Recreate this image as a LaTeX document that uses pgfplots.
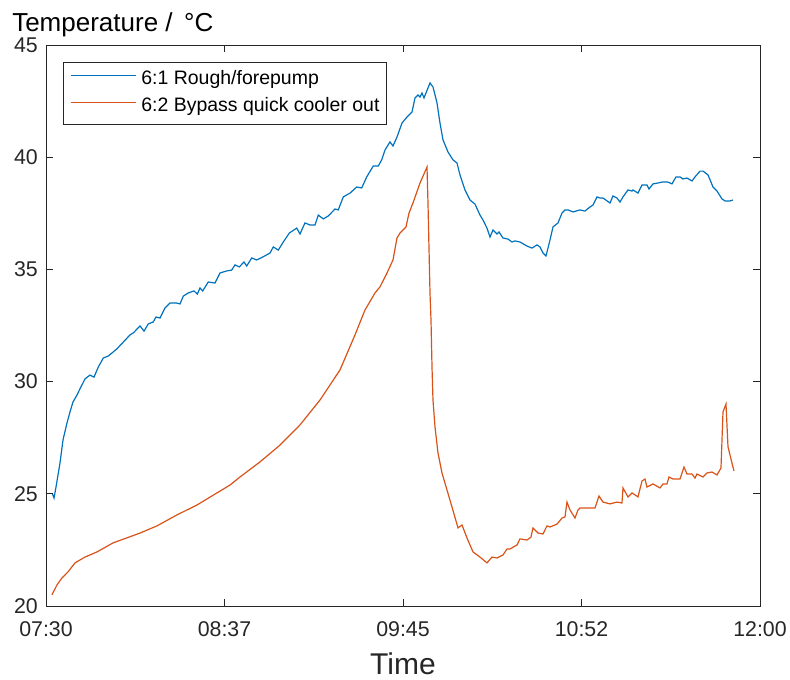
\documentclass[border=0pt]{standalone}
\usepackage{pgfplots}
\pgfplotsset{compat=1.18}
\usepackage{fontspec}
\setmainfont{Liberation Sans}

\definecolor{axgray}{rgb}{0.15,0.15,0.15}
\definecolor{mblue}{rgb}{0,0.447,0.741}
\definecolor{morange}{rgb}{0.85,0.325,0.098}

% minutes after 07:30, temperature in degC
\pgfplotstableread{
t T
2.46 24.99
3.03 24.81
3.78 25.30
5.29 26.37
6.43 27.40
7.94 28.16
9.08 28.65
10.21 29.09
11.72 29.40
12.86 29.68
14.75 30.12
16.64 30.29
18.15 30.20
19.78 30.65
21.67 31.05
23.56 31.14
26.74 31.45
29.23 31.76
31.76 32.08
33.01 32.17
35.55 32.48
37.06 32.25
38.68 32.57
40.58 32.66
41.60 32.88
43.11 32.83
45.00 33.28
46.89 33.50
49.42 33.50
50.67 33.46
51.92 33.81
53.81 33.95
55.97 34.04
57.21 33.90
58.24 34.17
59.26 34.04
61.37 34.44
63.91 34.39
65.80 34.84
68.33 34.93
70.22 34.97
71.47 35.20
73.10 35.11
74.87 35.33
75.90 35.15
77.79 35.51
79.68 35.42
81.95 35.55
84.71 35.73
85.96 36.00
87.84 35.86
89.74 36.22
92.00 36.62
94.80 36.84
96.05 36.58
97.94 37.07
99.83 36.98
101.72 36.98
102.97 37.42
104.86 37.25
106.75 37.38
109.29 37.69
110.53 37.65
112.42 38.23
114.96 38.40
117.49 38.67
119.38 38.63
121.27 39.12
123.77 39.61
125.66 39.61
126.94 39.88
128.19 40.32
130.08 40.68
131.22 40.50
132.73 40.90
134.62 41.52
136.51 41.79
138.40 42.01
139.54 42.64
140.67 42.77
141.43 42.68
142.18 42.86
142.94 42.64
145.21 43.31
146.34 43.13
147.86 42.42
148.99 41.52
150.13 40.77
152.02 40.23
153.91 39.88
155.42 39.74
156.55 39.21
158.44 38.54
160.34 38.09
162.23 37.91
164.12 37.42
165.25 37.20
166.76 36.84
167.90 36.44
169.03 36.76
170.55 36.58
171.30 36.67
172.81 36.40
174.71 36.35
176.22 36.22
177.35 36.27
179.24 36.22
181.89 36.04
183.78 35.95
185.67 36.09
186.81 36.00
187.94 35.73
189.08 35.60
190.59 36.31
191.72 36.89
193.61 37.07
195.13 37.51
196.26 37.65
197.40 37.65
199.29 37.56
201.93 37.65
203.82 37.60
205.71 37.78
206.85 37.87
208.36 38.23
209.50 38.18
210.63 38.18
213.28 37.96
214.41 38.27
215.92 38.18
217.06 38.00
218.19 38.23
220.08 38.54
221.60 38.49
221.97 38.54
223.86 38.40
225.38 38.76
227.27 38.76
228.02 38.58
229.54 38.81
231.43 38.85
232.94 38.89
235.21 38.89
236.72 38.81
238.23 39.12
239.75 39.12
240.88 39.03
242.39 39.07
244.28 38.94
245.42 39.12
247.31 39.38
248.45 39.38
250.34 39.21
252.23 38.67
253.74 38.49
255.63 38.14
256.76 38.05
258.65 38.05
259.79 38.09
}\roughpump

\pgfplotstableread{
t T
2.27 20.50
4.16 20.94
6.05 21.25
8.32 21.52
10.97 21.92
14.75 22.18
19.29 22.41
25.34 22.81
35.55 23.25
41.97 23.57
49.54 24.06
57.10 24.50
64.66 25.04
69.58 25.39
73.36 25.75
80.92 26.42
88.49 27.17
96.05 28.07
103.62 29.18
111.18 30.52
116.85 32.08
120.63 33.19
124.41 33.95
126.30 34.22
128.95 34.84
131.22 35.42
132.73 36.40
133.87 36.62
136.13 36.89
137.27 37.51
138.78 37.96
141.43 38.85
144.08 39.56
144.45 37.96
145.21 33.95
145.59 32.74
145.97 30.65
146.34 29.18
147.10 27.98
148.23 26.82
149.74 25.93
151.64 25.17
153.53 24.41
155.80 23.48
157.31 23.61
159.20 23.03
161.47 22.41
164.12 22.18
166.76 21.92
168.65 22.18
170.55 22.14
172.81 22.27
174.33 22.54
175.46 22.54
178.11 22.72
179.24 22.99
181.89 22.94
183.40 23.07
184.16 23.48
186.05 23.25
187.94 23.21
189.45 23.57
190.59 23.52
193.24 23.65
195.13 23.92
196.26 23.97
197.02 24.63
198.15 24.28
200.04 23.92
201.18 24.28
201.93 24.37
204.96 24.37
207.61 24.37
209.12 24.90
210.63 24.63
213.28 24.55
215.92 24.63
217.81 24.59
218.19 25.26
220.08 24.86
221.60 25.04
223.86 24.86
225.38 25.57
226.51 25.66
227.27 25.30
229.54 25.44
232.18 25.26
233.32 25.44
234.83 25.44
235.59 25.75
237.10 25.66
239.75 25.66
241.26 26.19
242.39 25.88
244.28 25.88
245.42 25.70
246.17 25.88
248.45 25.75
249.96 25.93
251.85 25.97
253.74 25.84
255.25 26.15
256.01 28.65
257.14 29.00
257.90 27.09
259.41 26.37
260.16 26.02
}\bypass

\begin{document}
\begin{tikzpicture}
\begin{axis}[
  name=ax,
  scale only axis,
  width=535.5pt, height=420.75pt,
  at={(0,0)}, anchor=south west,
  xmin=0, xmax=270, ymin=20, ymax=45,
  xtick={0,67.5,135,202.5,270},
  xticklabels={07:30,08:37,09:45,10:52,12:00},
  ytick={20,25,30,35,40,45},
  tick align=inside,
  major tick length=5.25pt,
  axis line style={draw=axgray, line width=0.6pt},
  every tick/.style={draw=axgray, line width=0.6pt},
  /pgf/number format/assume math mode=true,
  ticklabel style={font=\fontsize{16}{16}\selectfont, text=axgray},
  xticklabel style={anchor=base, inner sep=0pt, yshift=-23.25pt},
  yticklabel style={anchor=east, inner sep=0pt, xshift=-6pt},
  xlabel={Time},
  xlabel style={at={(rel axis cs:0.5,0)}, anchor=base, inner sep=0pt,
                yshift=-51.5pt, font=\fontsize{22.5}{22.5}\selectfont, text=axgray},
  legend cell align=left,
  legend image code/.code={\draw[#1, line width=0.75pt] (0pt,0.36em) -- (48.75pt,0.36em);},
  legend style={at={(0,1)}, anchor=north west, xshift=12.75pt, yshift=-12.75pt,
                draw=axgray, line width=0.6pt, inner xsep=5.25pt, inner ysep=3pt,
                font=\fontsize{14.6}{14.6}\selectfont, text=black,
                nodes={inner sep=0pt, text height=13.5pt, text depth=6.75pt},
                /tikz/every odd column/.append style={column sep=3.75pt}},
]
\addplot[mblue, line width=0.9pt] table[x=t, y=T] {\roughpump};
\addlegendentry{6:1 Rough/forepump}
\addplot[morange, line width=0.9pt] table[x=t, y=T] {\bypass};
\addlegendentry{6:2 Bypass quick cooler out}
\end{axis}
\node[anchor=base west, inner sep=0pt, font=\fontsize{19.5}{19.5}\selectfont, text=black]
  at ([xshift=-25.5pt, yshift=9.75pt]ax.north west) {Temperature / \,{\textdegree}C};
\pgfresetboundingbox
\path[use as bounding box] (-34.5pt,-55.5pt) rectangle (558pt,454.5pt);
\end{tikzpicture}
\end{document}
